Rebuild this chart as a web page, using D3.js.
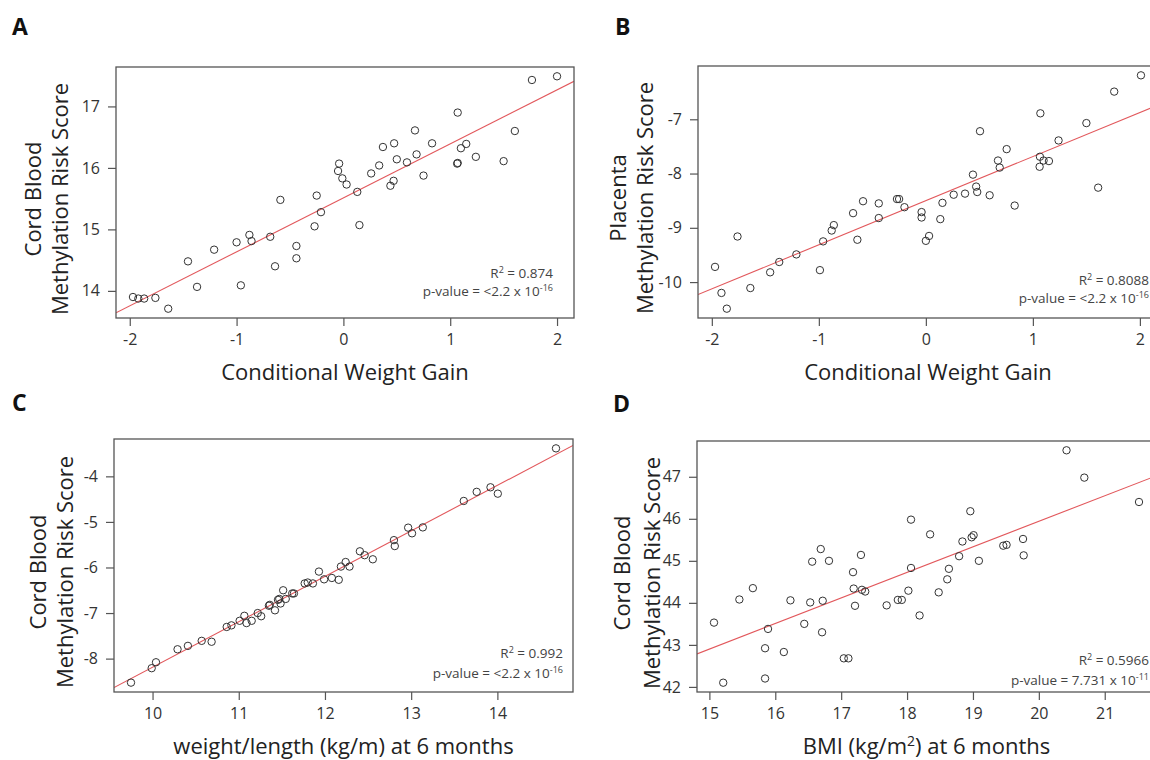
<!DOCTYPE html>
<html>
<head>
<meta charset="utf-8">
<script src="https://cdn.jsdelivr.net/npm/d3@7"></script>
<style>
  body { margin: 0; background: #fff; }
  text { font-family: "Open Sans", sans-serif; }
</style>
</head>
<body>
<svg id="fig" width="1150" height="760"></svg>
<script>
"use strict";

// ---- data ----

// A: conditional weight gain vs cord blood score
const aX = [-1.97,-1.92,-1.865,-1.76,-1.64,-1.455,-1.37,-1.21,-1.0,-0.96,-0.88,-0.86,-0.685,-0.64,-0.59,-0.44,-0.44,-0.27,-0.25,-0.21,-0.04,-0.05,-0.01,0.03,0.13,0.15,0.26,0.335,0.37,0.475,0.44,0.47,0.50,0.595,0.67,0.685,0.75,0.83,1.07,1.065,1.07,1.10,1.15,1.24,1.50,1.605,1.765,2.0];
const aY = [13.90,13.875,13.875,13.886,13.71,14.48,14.065,14.67,14.79,14.09,14.91,14.81,14.88,14.40,15.48,14.73,14.53,15.05,15.55,15.28,16.07,15.95,15.83,15.73,15.61,15.07,15.91,16.04,16.34,16.40,15.71,15.79,16.14,16.09,16.61,16.22,15.875,16.40,16.90,16.07,16.08,16.32,16.39,16.18,16.11,16.60,17.43,17.49];

// B: conditional weight gain vs placenta score
const bX = [-1.97,-1.91,-1.86,-1.76,-1.64,-1.455,-1.37,-1.21,-0.99,-0.96,-0.88,-0.86,-0.68,-0.64,-0.587,-0.44,-0.44,-0.27,-0.25,-0.20,-0.04,-0.04,0.0,0.03,0.135,0.155,0.26,0.366,0.44,0.47,0.48,0.506,0.596,0.674,0.69,0.755,0.83,1.07,1.066,1.063,1.10,1.15,1.24,1.50,1.61,1.76,2.01];
const bY = [-9.72,-10.20,-10.49,-9.16,-10.11,-9.82,-9.63,-9.49,-9.78,-9.25,-9.05,-8.95,-8.73,-9.22,-8.51,-8.55,-8.82,-8.47,-8.47,-8.62,-8.71,-8.81,-9.24,-9.15,-8.84,-8.54,-8.39,-8.37,-8.02,-8.24,-8.34,-7.22,-8.40,-7.76,-7.89,-7.55,-8.59,-6.89,-7.69,-7.875,-7.76,-7.77,-7.39,-7.07,-8.26,-6.49,-6.19];

// C: weight/length at 6 months vs cord blood score
const cX = [9.75,9.99,10.04,10.29,10.41,10.57,10.685,10.86,10.915,11.01,11.065,11.09,11.15,11.22,11.26,11.35,11.36,11.42,11.455,11.47,11.485,11.515,11.545,11.62,11.64,11.765,11.80,11.86,11.93,11.99,12.08,12.16,12.185,12.24,12.285,12.405,12.46,12.555,12.80,12.81,12.965,13.01,13.135,13.61,13.76,13.92,14.005,14.68];
const cY = [-8.527,-8.21,-8.08,-7.795,-7.72,-7.61,-7.63,-7.305,-7.27,-7.17,-7.06,-7.22,-7.17,-7.00,-7.07,-6.84,-6.82,-6.94,-6.71,-6.69,-6.79,-6.50,-6.69,-6.57,-6.57,-6.35,-6.33,-6.35,-6.09,-6.26,-6.23,-6.27,-5.98,-5.88,-5.98,-5.645,-5.73,-5.82,-5.40,-5.53,-5.126,-5.25,-5.12,-4.54,-4.34,-4.24,-4.38,-3.386];

// D: BMI at 6 months vs cord blood score
const dX = [15.07,15.21,15.455,15.66,15.845,15.89,15.845,16.13,16.23,16.44,16.53,16.56,16.69,16.71,16.72,16.815,17.04,17.11,17.18,17.19,17.21,17.30,17.315,17.365,17.69,17.86,17.92,18.02,18.06,18.06,18.19,18.35,18.48,18.61,18.635,18.79,18.84,18.96,18.98,19.01,19.09,19.46,19.51,19.76,19.77,20.42,20.69,21.52];
const dY = [43.53,42.10,44.08,44.35,42.92,43.38,42.20,42.83,44.06,43.50,44.01,44.98,45.28,43.30,44.05,45.00,42.68,42.68,44.73,44.34,43.93,45.14,44.31,44.27,43.94,44.07,44.07,44.29,45.98,44.83,43.70,45.63,44.25,44.56,44.81,45.11,45.46,46.18,45.56,45.61,45.00,45.36,45.38,45.52,45.13,47.63,46.98,46.40];

const panelLetters = ["A", "B", "C", "D"];
const xTicks = [[-2,-1,0,1,2], [-2,-1,0,1,2], [10,11,12,13,14], [15,16,17,18,19,20,21]];
const yTicks = [[14,15,16,17], [-10,-9,-8,-7], [-8,-7,-6,-5,-4], [42,43,44,45,46,47]];

// fitted lines (intercept, slope)
const fitIntercept = [15.513, -8.50, -18.17, 33.78];
const fitSlope = [0.878, 0.813, 0.998, 0.608];

const r2Values = ["0.874", "0.8088", "0.992", "0.5966"];
const pMantissa = ["<2.2", "<2.2", "<2.2", "7.731"];
const pExponent = ["-16", "-16", "-16", "-11"];

const xTitles = [["Conditional Weight Gain"], ["Conditional Weight Gain"],
                 ["weight/length (kg/m) at 6 months"], ["BMI (kg/m", "2", ") at 6 months"]];
const yTitleTop = ["Cord Blood", "Placenta", "Cord Blood", "Cord Blood"];
const yTitleBottom = "Methylation Risk Score";

// ---- layout ----
const layout = [
  {x0: 116, x1: 574,  y0: 67,  y1: 318, lx: 12,  ly: 35,  t1: 41,  t2: 68,  ty: 199, ax: 553,  a1: 278, a2: 296},
  {x0: 698, x1: 1158, y0: 66,  y1: 318, lx: 615, ly: 35,  t1: 626, t2: 653, ty: 198, ax: 1149, a1: 285, a2: 303},
  {x0: 114, x1: 573,  y0: 439, y1: 692, lx: 12,  ly: 411, t1: 46,  t2: 73,  ty: 572, ax: 563,  a1: 658, a2: 678},
  {x0: 697, x1: 1156, y0: 441, y1: 692, lx: 613, ly: 412, t1: 630, t2: 660, ty: 573, ax: 1149, a1: 665, a2: 685}
];

const xs = [aX, bX, cX, dX];
const ys = [aY, bY, cY, dY];

// R style: data range plus 4% each side
function padded(v) {
  const [lo, hi] = d3.extent(v);
  const p = (hi - lo) * 0.04;
  return [lo - p, hi + p];
}

const svg = d3.select("#fig");
const ink = "#333";

layout.forEach(function (L, i) {
  const x = d3.scaleLinear().domain(padded(xs[i])).range([L.x0, L.x1]);
  const y = d3.scaleLinear().domain(padded(ys[i])).range([L.y1, L.y0]);

  const g = svg.append("g");

  g.append("clipPath").attr("id", "clip" + i)
    .append("rect")
      .attr("x", L.x0).attr("y", L.y0)
      .attr("width", L.x1 - L.x0).attr("height", L.y1 - L.y0);

  // regression line
  const dom = x.domain();
  g.append("line")
    .attr("clip-path", "url(#clip" + i + ")")
    .attr("x1", x(dom[0])).attr("y1", y(fitIntercept[i] + fitSlope[i] * dom[0]))
    .attr("x2", x(dom[1])).attr("y2", y(fitIntercept[i] + fitSlope[i] * dom[1]))
    .attr("stroke", "#e2585c").attr("stroke-width", 1.1);

  // points
  g.selectAll("circle.pt").data(d3.zip(xs[i], ys[i]))
    .enter().append("circle")
      .attr("class", "pt")
      .attr("cx", d => x(d[0]))
      .attr("cy", d => y(d[1]))
      .attr("r", 3.7)
      .attr("fill", "none")
      .attr("stroke", ink)
      .attr("stroke-width", 1);

  // frame
  g.append("rect")
    .attr("x", L.x0).attr("y", L.y0)
    .attr("width", L.x1 - L.x0).attr("height", L.y1 - L.y0)
    .attr("fill", "none").attr("stroke", "#555").attr("stroke-width", 1.3);

  // axes
  const gx = g.append("g")
    .attr("transform", `translate(0,${L.y1})`)
    .call(d3.axisBottom(x).tickValues(xTicks[i]).tickSize(8).tickPadding(8).tickFormat(d => String(d)));
  const gy = g.append("g")
    .attr("transform", `translate(${L.x0},0)`)
    .call(d3.axisLeft(y).tickValues(yTicks[i]).tickSize(8).tickPadding(8).tickFormat(d => String(d)));
  [gx, gy].forEach(function (ax) {
    ax.select(".domain").remove();
    ax.attr("font-family", "Open Sans").attr("font-size", 16);
    ax.selectAll("line").attr("stroke", "#555").attr("stroke-width", 1.2);
    ax.selectAll("text").attr("fill", ink);
  });

  // x title
  const xt = g.append("text")
    .attr("x", (L.x0 + L.x1) / 2).attr("y", L.y1 + 62)
    .attr("text-anchor", "middle").attr("font-size", 22).attr("fill", "#222");
  if (xTitles[i].length === 1) {
    xt.text(xTitles[i][0]);
  } else {
    xt.append("tspan").text(xTitles[i][0]);
    xt.append("tspan").attr("dy", -8).attr("font-size", 14).text(xTitles[i][1]);
    xt.append("tspan").attr("dy", 8).text(xTitles[i][2]);
  }

  // y titles (two lines)
  [[yTitleTop[i], L.t1], [yTitleBottom, L.t2]].forEach(function (t) {
    g.append("text")
      .attr("transform", `translate(${t[1]},${L.ty}) rotate(-90)`)
      .attr("text-anchor", "middle").attr("font-size", 22).attr("fill", "#222")
      .text(t[0]);
  });

  // fit statistics
  const r2 = g.append("text")
    .attr("x", L.ax).attr("y", L.a1)
    .attr("text-anchor", "end").attr("font-size", 13.5).attr("fill", "#444");
  r2.append("tspan").text("R");
  r2.append("tspan").attr("dy", -5).attr("font-size", 9).text("2");
  r2.append("tspan").attr("dy", 5).text(" = " + r2Values[i]);

  const pv = g.append("text")
    .attr("x", L.ax).attr("y", L.a2)
    .attr("text-anchor", "end").attr("font-size", 13.5).attr("fill", "#444");
  pv.append("tspan").text("p-value = " + pMantissa[i] + " x 10");
  pv.append("tspan").attr("dy", -5).attr("font-size", 9).text(pExponent[i]);

  // panel letter
  svg.append("text")
    .attr("x", L.lx).attr("y", L.ly)
    .attr("font-family", "Liberation Sans, Arial, sans-serif")
    .attr("font-weight", "bold").attr("font-size", 23).attr("fill", "#111")
    .text(panelLetters[i]);
});
</script>
</body>
</html>
